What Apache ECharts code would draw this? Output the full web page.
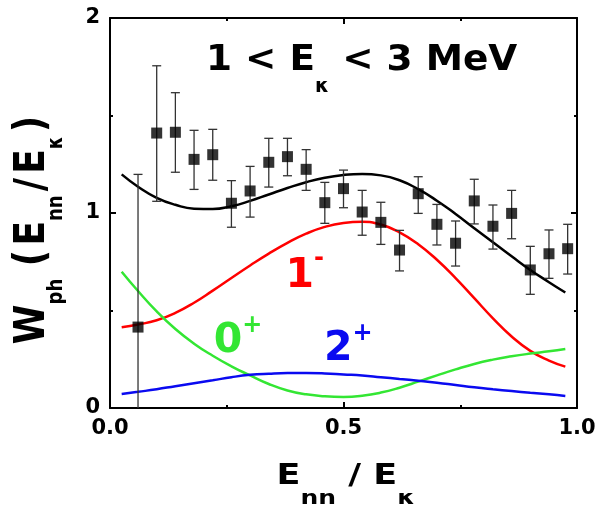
<!DOCTYPE html>
<html><head><meta charset="utf-8">
<script src="https://cdn.jsdelivr.net/npm/echarts@6/dist/echarts.min.js"></script>
<style>html,body{margin:0;padding:0;background:#fff}#c{width:600px;height:508px}</style>
</head><body><div id="c"></div>
<script>
// ---- data ----
const pointX  = [0.06,0.10,0.14,0.18,0.22,0.26,0.30,0.34,0.38,0.42,0.46,0.50,0.54,0.58,0.62,0.66,0.70,0.74,0.78,0.82,0.86,0.90,0.94,0.98];
const pointY  = [0.415,1.41,1.414,1.275,1.299,1.05,1.113,1.26,1.289,1.224,1.053,1.125,1.005,0.952,0.81,1.099,0.942,0.845,1.062,0.932,0.998,0.708,0.791,0.817];
const pointHi = [1.198,1.755,1.617,1.424,1.429,1.166,1.239,1.383,1.383,1.325,1.157,1.22,1.116,1.055,0.911,1.186,1.044,0.959,1.173,1.041,1.116,0.829,0.913,0.942];
const pointLo = [-0.1,1.06,1.209,1.121,1.168,0.927,0.979,1.133,1.191,1.116,0.947,1.027,0.886,0.839,0.703,0.998,0.836,0.728,0.944,0.815,0.868,0.583,0.665,0.687];

const curveX     = [0.025,0.06,0.10,0.14,0.18,0.22,0.26,0.30,0.34,0.38,0.42,0.46,0.50,0.54,0.58,0.62,0.66,0.70,0.74,0.78,0.82,0.86,0.90,0.94,0.975];
const totalCurve = [1.198,1.135,1.078,1.042,1.022,1.02,1.035,1.062,1.095,1.128,1.158,1.181,1.195,1.2,1.193,1.168,1.122,1.063,0.995,0.922,0.85,0.778,0.708,0.645,0.592];
const curve1m    = [0.414,0.428,0.45,0.488,0.54,0.602,0.667,0.731,0.792,0.847,0.894,0.929,0.949,0.955,0.941,0.901,0.84,0.76,0.666,0.563,0.46,0.367,0.293,0.243,0.212];
const curve0p    = [0.699,0.60,0.495,0.405,0.33,0.268,0.214,0.167,0.123,0.09,0.07,0.06,0.057,0.063,0.079,0.104,0.135,0.167,0.198,0.226,0.248,0.265,0.279,0.291,0.303];
const curve2p    = [0.072,0.083,0.096,0.112,0.127,0.142,0.158,0.17,0.176,0.179,0.179,0.177,0.172,0.167,0.158,0.149,0.14,0.13,0.118,0.106,0.096,0.087,0.078,0.07,0.062];

const xTicks = [0, 0.5, 1];
const yTicks = [0, 1, 2];

// ---- build ----
const FONT = 'DejaVu Sans';
const pairs = ys => curveX.map((x, i) => [x, ys[i]]);
const pts = pointX.map((x, i) => [x, pointY[i]]);
const errs = pointX.map((x, i) => [x, pointLo[i], pointHi[i]]);

function axisBase(type, pos, showLabel) {
  const isX = type === 'x';
  const t = isX ? xTicks : yTicks;
  return {
    type: 'value', position: pos,
    min: t[0], max: t[t.length - 1], interval: t[1] - t[0],
    axisLine: {show: true, onZero: false, lineStyle: {color: '#000', width: 2}},
    axisTick: {show: true, inside: true, length: 6, lineStyle: {color: '#000', width: 2}},
    minorTick: {show: true, splitNumber: 2, length: 3, lineStyle: {color: '#000', width: 2}},
    splitLine: {show: false},
    axisLabel: {
      show: showLabel, color: '#000', fontFamily: FONT, fontWeight: 'bold', fontSize: 21,
      margin: isX ? 10 : 10,
      formatter: v => isX ? v.toFixed(1) : String(v)
    }
  };
}

const chart = echarts.init(document.getElementById('c'), null, {renderer: 'canvas'});
const lineSeries = (data, color) => ({
  type: 'line', data, smooth: 0.5, showSymbol: false, symbol: 'none',
  lineStyle: {color, width: 2.5}, z: 2, silent: true
});
const bold = (size, extra) => Object.assign({fontFamily: FONT, fontWeight: 'bold', fontSize: size, verticalAlign: 'top'}, extra || {});

const option = {
  animation: false,
  backgroundColor: '#fff',
  grid: {left: 110, right: 23, top: 18, bottom: 100},
  xAxis: [axisBase('x', 'bottom', true), axisBase('x', 'top', false)],
  yAxis: [axisBase('y', 'left', true), axisBase('y', 'right', false)],
  series: [
    lineSeries(pairs(totalCurve), '#000000'),
    lineSeries(pairs(curve1m), '#ff0000'),
    lineSeries(pairs(curve0p), '#33e633'),
    lineSeries(pairs(curve2p), '#0a0af0'),
    {
      type: 'custom', data: errs, clip: true, z: 3, silent: true,
      encode: {x: 0, y: [1, 2]},
      renderItem: (params, api) => {
        const x = api.value(0);
        const a = api.coord([x, api.value(1)]);
        const b = api.coord([x, api.value(2)]);
        const w = 4.5;
        const st = {stroke: '#333', lineWidth: 1.3};
        return {type: 'group', children: [
          {type: 'line', shape: {x1: a[0], y1: a[1], x2: b[0], y2: b[1]}, style: st},
          {type: 'line', shape: {x1: a[0] - w, y1: a[1], x2: a[0] + w, y2: a[1]}, style: st},
          {type: 'line', shape: {x1: b[0] - w, y1: b[1], x2: b[0] + w, y2: b[1]}, style: st}
        ]};
      }
    },
    {
      type: 'scatter', data: pts, symbol: 'rect', symbolSize: 11,
      itemStyle: {color: '#000'}, z: 4, silent: true
    }
  ],
  graphic: [
    { // title
      type: 'text', x: 206, y: 42.5, scaleX: 1.04, z: 10,
      style: {
        text: '{m|1 < E}{s|κ}{m| < 3 MeV}',
        rich: {
          m: bold(36, {lineHeight: 40, fill: '#000'}),
          s: bold(19, {lineHeight: 19, padding: [35, 0, 0, 0], fill: '#000'})
        }
      }
    },
    { // 1-
      type: 'text', x: 285.5, y: 246.7, z: 10,
      style: {
        text: '{m|1}{s|-}',
        rich: {
          m: bold(41, {lineHeight: 44, padding: [9, 0, 0, 0], fill: '#ff0000'}),
          s: bold(24, {lineHeight: 24, fill: '#ff0000'})
        }
      }
    },
    { // 0+
      type: 'text', x: 213.7, y: 313.7, z: 10,
      style: {
        text: '{m|0}{s|+}',
        rich: {
          m: bold(41, {lineHeight: 44, padding: [7, 0, 0, 0], fill: '#33e633'}),
          s: bold(24, {lineHeight: 24, fill: '#33e633'})
        }
      }
    },
    { // 2+
      type: 'text', x: 324, y: 321.7, z: 10,
      style: {
        text: '{m|2}{s|+}',
        rich: {
          m: bold(41, {lineHeight: 44, padding: [7, 0, 0, 0], fill: '#0a0af0'}),
          s: bold(24, {lineHeight: 24, fill: '#0a0af0'})
        }
      }
    },
    { // x axis name
      type: 'text', x: 276.6, y: 463.1, scaleX: 1.25, z: 10,
      style: {
        text: '{m|E}{s|nn}{m| / E}{s|κ}',
        rich: {
          m: bold(28, {lineHeight: 32, fill: '#000'}),
          s: bold(20, {lineHeight: 20, padding: [26, 0, 0, 0], fill: '#000'})
        }
      }
    },
    { // y axis name (rotated)
      type: 'text', x: 35, y: 230, rotation: Math.PI / 2, scaleY: 1.2, z: 10,
      style: {
        text: '{m|W}{s|ph}{m| (}{sp| }{m|E}{s|nn}{sp| }{m|/}{sp| }{m|E}{s|κ}{sp| }{m|)}',
        align: 'center', verticalAlign: 'middle',
        rich: {
          m: bold(36, {lineHeight: 40, fill: '#000'}),
          s: bold(18, {lineHeight: 18, padding: [28.5, 0, 0, 0], fill: '#000'}),
          sp: bold(12, {lineHeight: 12, fill: '#000'})
        }
      }
    }
  ]
};
chart.setOption(option);
</script>
</body></html>
